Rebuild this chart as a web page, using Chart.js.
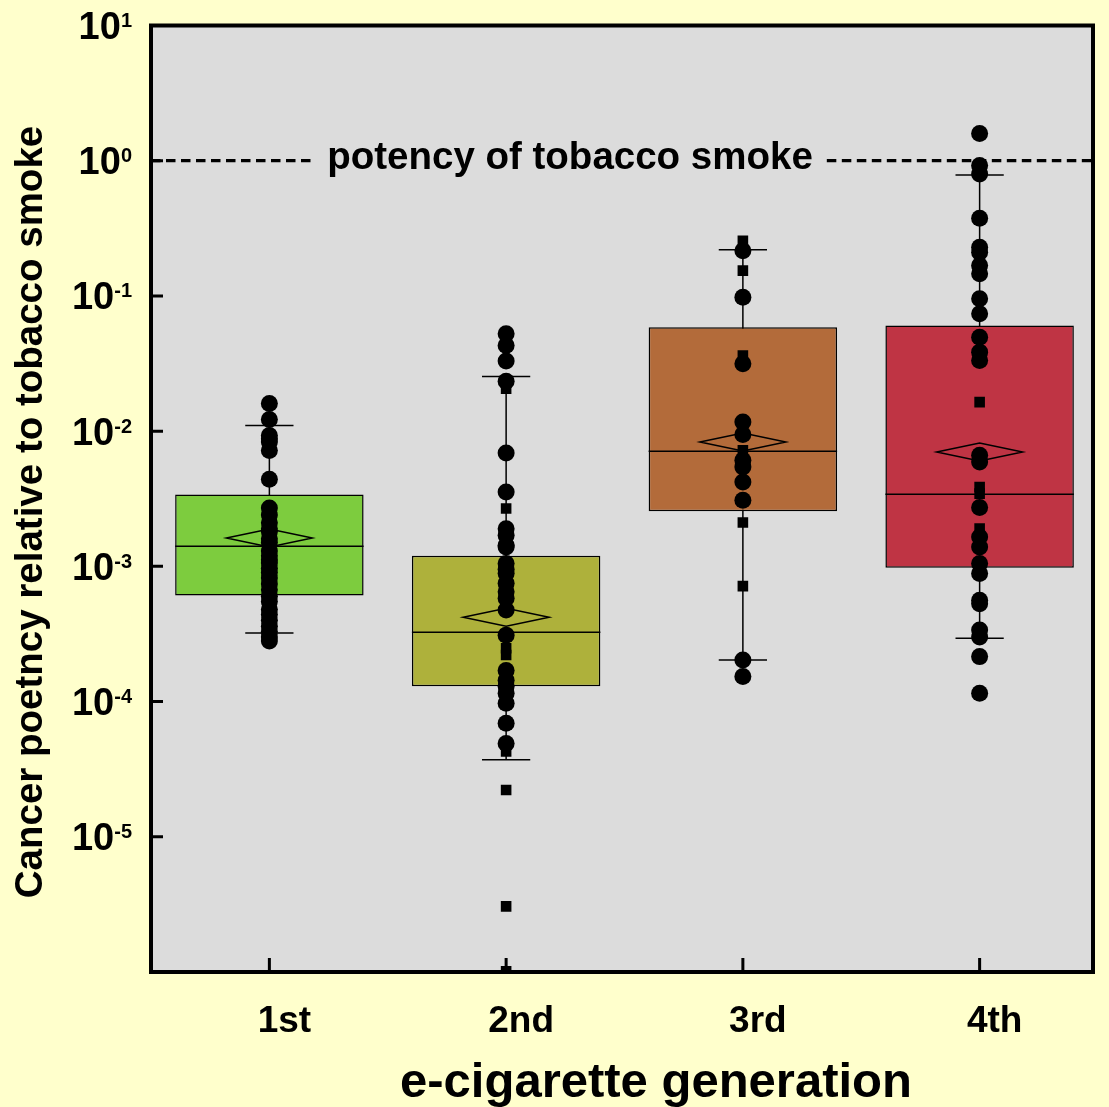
<!DOCTYPE html>
<html>
<head>
<meta charset="utf-8">
<script src="https://cdn.jsdelivr.net/npm/chart.js@4.4.1/dist/chart.umd.min.js"></script>
<style>
    html, body { margin: 0; padding: 0; background: #ffffcc; }
    #wrap { width: 1109px; height: 1107px; }
</style>
</head>
<body>
<div id="wrap"><canvas id="boxChart" width="1109" height="1107"></canvas></div>
<script>
// 类别
const generations = ['1st', '2nd', '3rd', '4th'];

// 箱线图统计量
const q1 = [0.00061, 0.00013, 0.00256, 0.000975];
const q3 = [0.0034, 0.0012, 0.0587, 0.0604];
const medians = [0.00141, 0.000325, 0.0071, 0.00341];
const means = [0.00162, 0.000421, 0.00831, 0.00701];
const whiskerLow = [0.000321, 0.0000371, 0.000203, 0.000294];
const whiskerHigh = [0.011, 0.0254, 0.22, 0.784];

// 单个测量值（圆点 / 方块）
const gen1Circles = [0.016, 0.0122, 0.0093, 0.0088, 0.0083, 0.0072, 0.0044, 0.0027, 0.0024, 0.0021,
    0.0019, 0.0018, 0.0016, 0.0015, 0.0013, 0.0012, 0.00112, 0.00106, 0.00097, 0.0009, 0.00082,
    0.00074, 0.00067, 0.0006, 0.00055, 0.00048, 0.00044, 0.0004, 0.00036, 0.00033, 0.0003, 0.00028];
const gen1Squares = [];
const gen2Circles = [0.0525, 0.043, 0.033, 0.0234, 0.0069, 0.00355, 0.0019, 0.0017, 0.00143, 0.00139,
    0.00105, 0.00095, 0.00089, 0.00075, 0.00065, 0.00058, 0.000475, 0.00031, 0.00017, 0.000144,
    0.00013, 0.000115, 0.000097, 0.000069, 0.000049];
const gen2Squares = [0.0206, 0.00268, 0.000248, 0.000221, 0.0000427, 0.0000222, 0.00000306, 0.00000101];
const gen3Circles = [0.216, 0.0978, 0.0315, 0.0117, 0.00946, 0.00608, 0.00543, 0.00421, 0.00308,
    0.000203, 0.000153];
const gen3Squares = [0.256, 0.154, 0.0363, 0.00721, 0.00211, 0.000714];
const gen4Circles = [1.59, 0.92, 0.797, 0.375, 0.229, 0.21, 0.168, 0.146, 0.0952, 0.0738, 0.0495,
    0.0384, 0.0333, 0.00663, 0.00591, 0.00272, 0.00165, 0.00139, 0.00105, 0.000887, 0.000562,
    0.00053, 0.000338, 0.0003, 0.000215, 0.000115];
const gen4Squares = [0.0164, 0.00386, 0.00345, 0.0019];

// 坐标轴刻度（10 的幂）
const yTickPowers = [1, 0, -1, -2, -3, -4, -5];
const tobaccoPotency = 1;

const boxColors = ['#7dcc3e', '#aeb13b', '#b36b3a', '#bf3444'];
const FONT = '"Liberation Sans", Arial, sans-serif';

function toPoints(lists) {
    let res = [];
    lists.forEach((values, i) => {
        values.forEach(v => res.push({x: generations[i], y: v}));
    });
    return res;
}

function frameRight(chart) {
    // 外框右边比类别区域略窄
    return chart.chartArea.right - 5;
}

const boxPlotExtras = {
    id: 'boxPlotExtras',
    beforeDraw(chart) {
        const {ctx, chartArea: a} = chart;
        ctx.save();
        ctx.fillStyle = '#ffffcc';
        ctx.fillRect(0, 0, chart.width, chart.height);
        ctx.fillStyle = '#dcdcdc';
        ctx.fillRect(a.left, a.top, frameRight(chart) - a.left, a.bottom - a.top);
        ctx.restore();
    },
    beforeDatasetsDraw(chart) {
        const {ctx, chartArea: a, scales: {x, y}} = chart;
        const boxes = chart.getDatasetMeta(0).data;
        ctx.save();
        // 须线和端帽
        ctx.strokeStyle = '#000';
        ctx.lineWidth = 1.5;
        generations.forEach((g, i) => {
            const cx = x.getPixelForValue(i);
            const capHalf = boxes[i].width * 0.128;
            const yLo = y.getPixelForValue(whiskerLow[i]);
            const yHi = y.getPixelForValue(whiskerHigh[i]);
            ctx.beginPath();
            ctx.moveTo(cx, yLo);
            ctx.lineTo(cx, yHi);
            ctx.moveTo(cx - capHalf, yLo);
            ctx.lineTo(cx + capHalf, yLo);
            ctx.moveTo(cx - capHalf, yHi);
            ctx.lineTo(cx + capHalf, yHi);
            ctx.stroke();
        });
        // 烟草烟雾参考线
        const ty = y.getPixelForValue(tobaccoPotency);
        const label = 'potency of tobacco smoke';
        ctx.font = `bold 38.5px ${FONT}`;
        const tw = ctx.measureText(label).width;
        const tx = 570;
        ctx.setLineDash([9.5, 5.5]);
        ctx.lineWidth = 3.2;
        ctx.beginPath();
        ctx.moveTo(a.left, ty);
        ctx.lineTo(tx - tw / 2 - 14, ty);
        ctx.moveTo(tx + tw / 2 + 14, ty);
        ctx.lineTo(frameRight(chart), ty);
        ctx.stroke();
        ctx.setLineDash([]);
        ctx.fillStyle = '#000';
        ctx.textAlign = 'center';
        ctx.textBaseline = 'middle';
        ctx.fillText(label, tx, ty - 2);
        ctx.restore();
    },
    afterDatasetDraw(chart, args) {
        if (args.index !== 0) return;
        const {ctx, scales: {y}} = chart;
        ctx.save();
        ctx.strokeStyle = '#000';
        ctx.lineWidth = 1.5;
        args.meta.data.forEach((bar, i) => {
            const half = bar.width / 2;
            const ym = y.getPixelForValue(medians[i]);
            ctx.beginPath();
            ctx.moveTo(bar.x - half, ym);
            ctx.lineTo(bar.x + half, ym);
            ctx.stroke();
            // 均值菱形
            const yMean = y.getPixelForValue(means[i]);
            const dw = bar.width * 0.228;
            ctx.beginPath();
            ctx.moveTo(bar.x - dw, yMean);
            ctx.lineTo(bar.x, yMean - 9);
            ctx.lineTo(bar.x + dw, yMean);
            ctx.lineTo(bar.x, yMean + 9);
            ctx.closePath();
            ctx.stroke();
        });
        ctx.restore();
    },
    afterDraw(chart) {
        const {ctx, chartArea: a, scales: {x, y}} = chart;
        const right = frameRight(chart);
        ctx.save();
        ctx.strokeStyle = '#000';
        ctx.fillStyle = '#000';
        // 向内的刻度
        ctx.lineWidth = 3;
        ctx.beginPath();
        generations.forEach((g, i) => {
            const px = x.getPixelForValue(i);
            ctx.moveTo(px, a.bottom);
            ctx.lineTo(px, a.bottom - 14);
        });
        yTickPowers.forEach(p => {
            const py = y.getPixelForValue(Math.pow(10, p));
            ctx.moveTo(a.left, py);
            ctx.lineTo(a.left + 12, py);
        });
        ctx.stroke();
        // 外框
        ctx.lineWidth = 4;
        ctx.strokeRect(a.left, a.top, right - a.left, a.bottom - a.top);
        // y 轴刻度标签 10^n
        ctx.textAlign = 'right';
        ctx.textBaseline = 'alphabetic';
        yTickPowers.forEach(p => {
            const py = y.getPixelForValue(Math.pow(10, p));
            const sup = String(p);
            const lx = a.left - 19;
            ctx.font = `bold 20px ${FONT}`;
            const supW = ctx.measureText(sup).width;
            ctx.fillText(sup, lx, py + 1.5);
            ctx.font = `bold 38px ${FONT}`;
            ctx.fillText('10', lx - supW, py + 13.5);
        });
        // 坐标轴标题
        ctx.textAlign = 'center';
        ctx.textBaseline = 'middle';
        ctx.font = `bold 38.5px ${FONT}`;
        ctx.save();
        ctx.translate(31, 512);
        ctx.rotate(-Math.PI / 2);
        ctx.fillText('Cancer poetncy relative to tobacco smoke', 0, 0);
        ctx.restore();
        ctx.font = `bold 49px ${FONT}`;
        ctx.fillText('e-cigarette generation', 656, 1083);
        ctx.restore();
    }
};

new Chart(document.getElementById('boxChart'), {
    type: 'bar',
    data: {
        labels: generations,
        datasets: [
            {
                label: 'IQR',
                data: generations.map((g, i) => [q1[i], q3[i]]),
                backgroundColor: boxColors,
                borderColor: '#000',
                borderWidth: 1.5,
                borderSkipped: false,
                barPercentage: 0.796,
                categoryPercentage: 1,
                order: 2
            },
            {
                type: 'line',
                label: 'circles',
                data: toPoints([gen1Circles, gen2Circles, gen3Circles, gen4Circles]),
                showLine: false,
                pointStyle: 'circle',
                pointRadius: 8.5,
                pointBorderWidth: 0,
                pointBackgroundColor: '#000',
                order: 1
            },
            {
                type: 'line',
                label: 'squares',
                data: toPoints([gen1Squares, gen2Squares, gen3Squares, gen4Squares]),
                showLine: false,
                pointStyle: 'rect',
                pointRadius: 7.5,
                pointBorderWidth: 0,
                pointBackgroundColor: '#000',
                order: 1
            }
        ]
    },
    options: {
        responsive: false,
        animation: false,
        events: [],
        layout: {
            padding: {top: 25.5, right: 11, left: 0, bottom: 0}
        },
        plugins: {
            legend: {display: false},
            tooltip: {enabled: false}
        },
        scales: {
            x: {
                type: 'category',
                offset: true,
                grid: {display: false},
                border: {display: false},
                ticks: {
                    color: '#000',
                    font: {family: FONT, size: 37, weight: 'bold'},
                    padding: 20,
                    labelOffset: 15
                },
                afterFit(scale) {
                    scale.height = 135;
                }
            },
            y: {
                type: 'logarithmic',
                min: 1e-6,
                max: 10,
                grid: {display: false},
                border: {display: false},
                ticks: {display: false},
                afterFit(scale) {
                    scale.width = 151;
                }
            }
        }
    },
    plugins: [boxPlotExtras]
});
</script>
</body>
</html>
